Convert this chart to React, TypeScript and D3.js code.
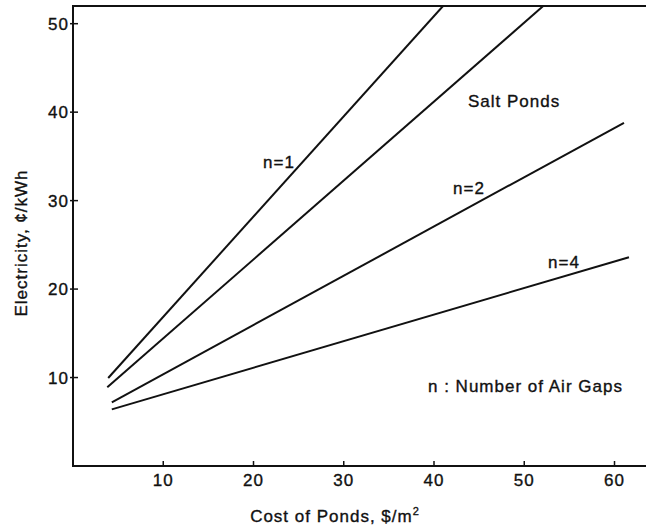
import React from 'react';
import * as d3 from 'd3';

// values (each line is straight: start and end points)
const xTicks = [10, 20, 30, 40, 50, 60];
const yTicks = [10, 20, 30, 40, 50];

const seriesNames = ['n=1', 'Salt Ponds', 'n=2', 'n=4'];
const costN1 = [3.9, 41.0];
const elecN1 = [9.95, 52.0];
const costSalt = [3.8, 52.1];
const elecSalt = [8.9, 52.0];
const costN2 = [4.3, 61.05];
const elecN2 = [7.2, 38.8];
const costN4 = [4.3, 61.6];
const elecN4 = [6.4, 23.6];

const width = 646,
    height = 528;

const font = '"Liberation Sans", Arial, Helvetica, sans-serif';

const App = () => {
    const x = d3.scaleLinear().domain([0, 63.6]).range([73, 647]);
    const y = d3.scaleLinear().domain([0, 52]).range([466, 6]);

    const line = d3
        .line<[number, number]>()
        .x((d) => x(d[0]))
        .y((d) => y(d[1]));

    const series = [
        { name: seriesNames[0], xs: costN1, ys: elecN1 },
        { name: seriesNames[1], xs: costSalt, ys: elecSalt },
        { name: seriesNames[2], xs: costN2, ys: elecN2 },
        { name: seriesNames[3], xs: costN4, ys: elecN4 },
    ];

    // slight stroke to mimic the heavy scanned type
    const textStyle = {
        fontFamily: font,
        fontSize: 17,
        letterSpacing: 1,
        fill: '#111',
        stroke: '#111',
        strokeWidth: 0.35,
    };

    return (
        <svg
            width={width}
            height={height}
            style={{ position: 'absolute', left: 0, top: 0, background: '#fff' }}
        >
            <defs>
                <clipPath id="plot">
                    <rect x={x(0)} y={y(52)} width={x(63.6) - x(0)} height={y(0) - y(52)} />
                </clipPath>
            </defs>

            {/* frame: left, top, bottom */}
            <path
                d={`M${x(63.6)},${y(52)} H${x(0)} V${y(0)} H${x(63.6)}`}
                fill="none"
                stroke="#111"
                strokeWidth={2}
            />

            {/* x ticks */}
            {xTicks.map((t) => (
                <g key={'x' + t}>
                    <line x1={x(t)} x2={x(t)} y1={y(0)} y2={y(0) - 5} stroke="#111" strokeWidth={1.5} />
                    <text x={x(t)} y={486} textAnchor="middle" style={textStyle}>
                        {t}
                    </text>
                </g>
            ))}

            {/* y ticks */}
            {yTicks.map((t) => (
                <g key={'y' + t}>
                    <line x1={x(0) - 3} x2={x(0) + 5} y1={y(t)} y2={y(t)} stroke="#111" strokeWidth={1.5} />
                    <text x={69} y={y(t)} dy="0.36em" textAnchor="end" style={textStyle}>
                        {t}
                    </text>
                </g>
            ))}

            {/* curves */}
            <g clipPath="url(#plot)">
                {series.map((s) => (
                    <path
                        key={s.name}
                        d={line(s.xs.map((v, i) => [v, s.ys[i]] as [number, number])) || ''}
                        fill="none"
                        stroke="#111"
                        strokeWidth={2}
                    />
                ))}
            </g>

            {/* labels */}
            <text x={263} y={168} style={textStyle}>n=1</text>
            <text x={468} y={107} style={textStyle}>Salt Ponds</text>
            <text x={453} y={194} style={textStyle}>n=2</text>
            <text x={548} y={268} style={textStyle}>n=4</text>
            <text x={428} y={392} style={textStyle}>n : Number of Air Gaps</text>

            {/* axis titles */}
            <text x={335} y={522} textAnchor="middle" style={textStyle}>
                Cost of Ponds, $/m<tspan dy={-7} fontSize={11}>2</tspan>
            </text>
            <text
                transform="translate(27,243) rotate(-90)"
                textAnchor="middle"
                style={textStyle}
            >
                Electricity, ¢/kWh
            </text>
        </svg>
    );
};

export default App;
